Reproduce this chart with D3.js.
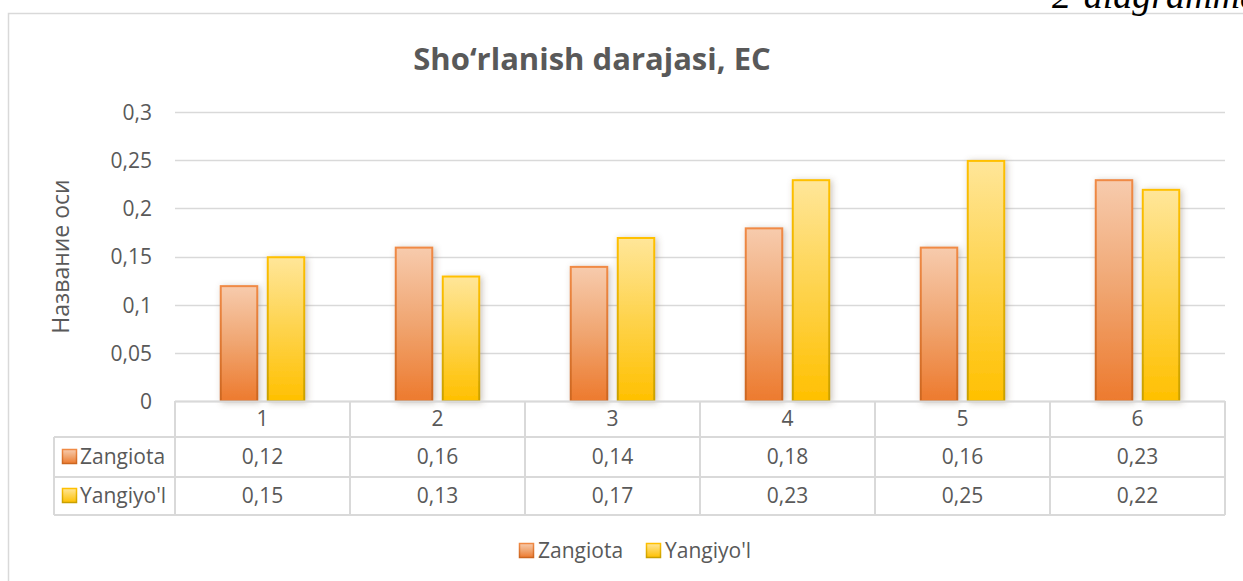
<!DOCTYPE html>
<html>
<head>
<meta charset="utf-8">
<script src="https://cdn.jsdelivr.net/npm/d3@7/dist/d3.min.js"></script>
<style>
  body { margin: 0; background: #fff; overflow: hidden; }
  text { font-family: "Open Sans", sans-serif; fill: #595959; }
</style>
</head>
<body>
<div id="chart"></div>
<script>

// chart data

var categories = ["1", "2", "3", "4", "5", "6"];
var seriesNames = ["Zangiota", "Yangiyo'l"];
var zangiota = [0.12, 0.16, 0.14, 0.18, 0.16, 0.23];
var yangiyol = [0.15, 0.13, 0.17, 0.23, 0.25, 0.22];
var yTicks = [0, 0.05, 0.1, 0.15, 0.2, 0.25, 0.3];
var chartTitle = "Sho‘rlanish darajasi, EC";
var axisTitle = "Название оси";
var captionText = "2-diagramma";

function barChart() {

  var width = 1243,
      height = 581,
      plotLeft = 175,
      plotRight = 1225,
      plotTop = 112,
      plotBottom = 401,
      chart_id = "chart";

  function chart() {

    // number format with decimal comma

    var formatNum = function(d) { return String(+d.toFixed(2)).replace(".", ","); };

    var series = [
      { name: seriesNames[0], values: zangiota, fill: "gradOrange", stroke: "strokeOrange" },
      { name: seriesNames[1], values: yangiyol, fill: "gradYellow", stroke: "strokeYellow" }
    ];

    var svg = d3.select("#" + chart_id).append("svg")
      .attr("width", width)
      .attr("height", height);

    // gradients and shadow

    var defs = svg.append("defs");

    function addGradient(id, stops) {
      var g = defs.append("linearGradient")
        .attr("id", id)
        .attr("x1", 0).attr("y1", 0).attr("x2", 0).attr("y2", 1);
      stops.forEach(function(s) {
        g.append("stop").attr("offset", s[0]).attr("stop-color", s[1]);
      });
    }

    addGradient("gradOrange", [[0, "#f7cbad"], [0.5, "#f0a570"], [1, "#ed7a2e"]]);
    addGradient("gradYellow", [[0, "#ffe699"], [0.5, "#fed34c"], [1, "#ffc000"]]);
    addGradient("strokeOrange", [[0, "#f08a45"], [1, "#cc6620"]]);
    addGradient("strokeYellow", [[0, "#ffc000"], [1, "#c9a000"]]);

    var filter = defs.append("filter")
      .attr("id", "shadow")
      .attr("x", "-30%").attr("y", "-10%")
      .attr("width", "160%").attr("height", "120%");
    filter.append("feDropShadow")
      .attr("dx", 2).attr("dy", 1)
      .attr("stdDeviation", 3)
      .attr("flood-color", "#6b5a40")
      .attr("flood-opacity", 0.35);

    // outer frame and caption

    svg.append("rect")
      .attr("x", 8.5).attr("y", 13.5)
      .attr("width", 1300).attr("height", 700)
      .attr("fill", "none")
      .attr("stroke", "#d9d9d9")
      .attr("stroke-width", 1.5);

    svg.append("text")
      .attr("x", 1052)
      .attr("y", 8)
      .style("font-family", "'Liberation Serif', 'DejaVu Serif', serif")
      .style("font-style", "italic")
      .style("font-size", "38px")
      .style("fill", "#000")
      .text(captionText);

    // title

    svg.append("text")
      .attr("x", 592)
      .attr("y", 70)
      .attr("text-anchor", "middle")
      .style("font-size", "31px")
      .style("font-weight", "bold")
      .text(chartTitle);

    // scales

    var x0 = d3.scaleBand()
      .domain(categories)
      .range([plotLeft, plotRight])
      .padding(0);

    var x1 = d3.scaleBand()
      .domain(seriesNames)
      .range([45, 130])
      .paddingInner(0.1915);

    var y = d3.scaleLinear()
      .domain([0, 0.3])
      .range([plotBottom, plotTop]);

    // gridlines

    svg.append("g")
      .selectAll("line")
      .data(yTicks)
      .enter()
        .append("line")
          .attr("x1", plotLeft)
          .attr("x2", plotRight)
          .attr("y1", function(d) { return Math.round(y(d)) + 0.5; })
          .attr("y2", function(d) { return Math.round(y(d)) + 0.5; })
          .attr("stroke", "#d9d9d9")
          .attr("stroke-width", 1.5);

    // y axis labels

    var yAxis = d3.axisLeft(y)
      .tickValues(yTicks)
      .tickFormat(formatNum)
      .tickSize(0)
      .tickPadding(0);

    var yg = svg.append("g")
      .attr("transform", "translate(152,0)")
      .call(yAxis);
    yg.select(".domain").remove();
    yg.attr("font-family", null).attr("font-size", null);
    yg.selectAll("text")
      .attr("dy", "0.35em")
      .style("font-size", "21px")
      .attr("fill", "#595959");

    svg.append("text")
      .attr("transform", "translate(69," + ((plotTop + plotBottom) / 2) + ") rotate(-90)")
      .attr("text-anchor", "middle")
      .style("font-size", "23px")
      .text(axisTitle);

    // bars

    var groups = svg.append("g")
      .selectAll("g")
      .data(series)
      .enter()
        .append("g");

    groups.selectAll("rect")
      .data(function(s) {
        return s.values.map(function(v, i) { return { s: s, c: categories[i], v: v }; });
      })
      .enter()
        .append("rect")
          .attr("x", function(d) { return x0(d.c) + x1(d.s.name) + 0.75; })
          .attr("y", function(d) { return y(d.v) + 0.75; })
          .attr("width", x1.bandwidth() - 1.5)
          .attr("height", function(d) { return plotBottom - y(d.v) - 0.75; })
          .attr("fill", function(d) { return "url(#" + d.s.fill + ")"; })
          .attr("stroke", function(d) { return "url(#" + d.s.stroke + ")"; })
          .attr("stroke-width", 2)
          .attr("filter", "url(#shadow)");

    // data table

    var rowLines = [401, 437, 477, 515];
    var tableLeft = 54;
    var table = svg.append("g")
      .attr("stroke", "#d9d9d9")
      .attr("stroke-width", 2);

    table.append("line")
      .attr("x1", plotLeft).attr("x2", plotRight)
      .attr("y1", rowLines[0] + 0.5).attr("y2", rowLines[0] + 0.5);

    table.selectAll(".hrow")
      .data(rowLines.slice(1))
      .enter()
        .append("line")
          .attr("class", "hrow")
          .attr("x1", tableLeft).attr("x2", plotRight)
          .attr("y1", function(d) { return d; })
          .attr("y2", function(d) { return d; });

    table.selectAll(".vcol")
      .data(categories.concat(["end"]))
      .enter()
        .append("line")
          .attr("class", "vcol")
          .attr("x1", function(d) { return d == "end" ? plotRight : x0(d); })
          .attr("x2", function(d) { return d == "end" ? plotRight : x0(d); })
          .attr("y1", rowLines[0])
          .attr("y2", rowLines[3]);

    table.append("line")
      .attr("x1", tableLeft).attr("x2", tableLeft)
      .attr("y1", rowLines[1]).attr("y2", rowLines[3]);

    // category labels

    svg.append("g")
      .selectAll("text")
      .data(categories)
      .enter()
        .append("text")
          .attr("x", function(d) { return x0(d) + x0.bandwidth() / 2; })
          .attr("y", (rowLines[0] + rowLines[1]) / 2)
          .attr("dy", "0.35em")
          .attr("text-anchor", "middle")
          .style("font-size", "21px")
          .text(function(d) { return d; });

    // series rows

    var rows = svg.append("g")
      .selectAll("g")
      .data(series)
      .enter()
        .append("g")
          .attr("transform", function(d, i) {
            return "translate(0," + ((rowLines[i + 1] + rowLines[i + 2]) / 2) + ")";
          });

    rows.append("rect")
      .attr("x", 62.5).attr("y", -7.5)
      .attr("width", 14).attr("height", 14)
      .attr("fill", function(d) { return "url(#" + d.fill + ")"; })
      .attr("stroke", function(d) { return "url(#" + d.stroke + ")"; })
      .attr("stroke-width", 1.5);

    rows.append("text")
      .attr("x", 80)
      .attr("dy", "0.35em")
      .style("font-size", "21px")
      .text(function(d) { return d.name; });

    rows.selectAll(".val")
      .data(function(s) { return s.values; })
      .enter()
        .append("text")
          .attr("class", "val")
          .attr("x", function(d, i) { return x0(categories[i]) + x0.bandwidth() / 2; })
          .attr("dy", "0.35em")
          .attr("text-anchor", "middle")
          .style("font-size", "21px")
          .text(function(d) { return formatNum(d); });

    // legend

    var legendX = [519, 646];
    var legend = svg.append("g")
      .selectAll("g")
      .data(series)
      .enter()
        .append("g")
          .attr("transform", function(d, i) { return "translate(" + legendX[i] + ",551)"; });

    legend.append("rect")
      .attr("x", 0.5).attr("y", -7.5)
      .attr("width", 14).attr("height", 14)
      .attr("fill", function(d) { return "url(#" + d.fill + ")"; })
      .attr("stroke", function(d) { return "url(#" + d.stroke + ")"; })
      .attr("stroke-width", 1.5);

    legend.append("text")
      .attr("x", 19)
      .attr("dy", "0.35em")
      .style("font-size", "21px")
      .text(function(d) { return d.name; });

  };

  return chart;

};

barChart()();

</script>
</body>
</html>
